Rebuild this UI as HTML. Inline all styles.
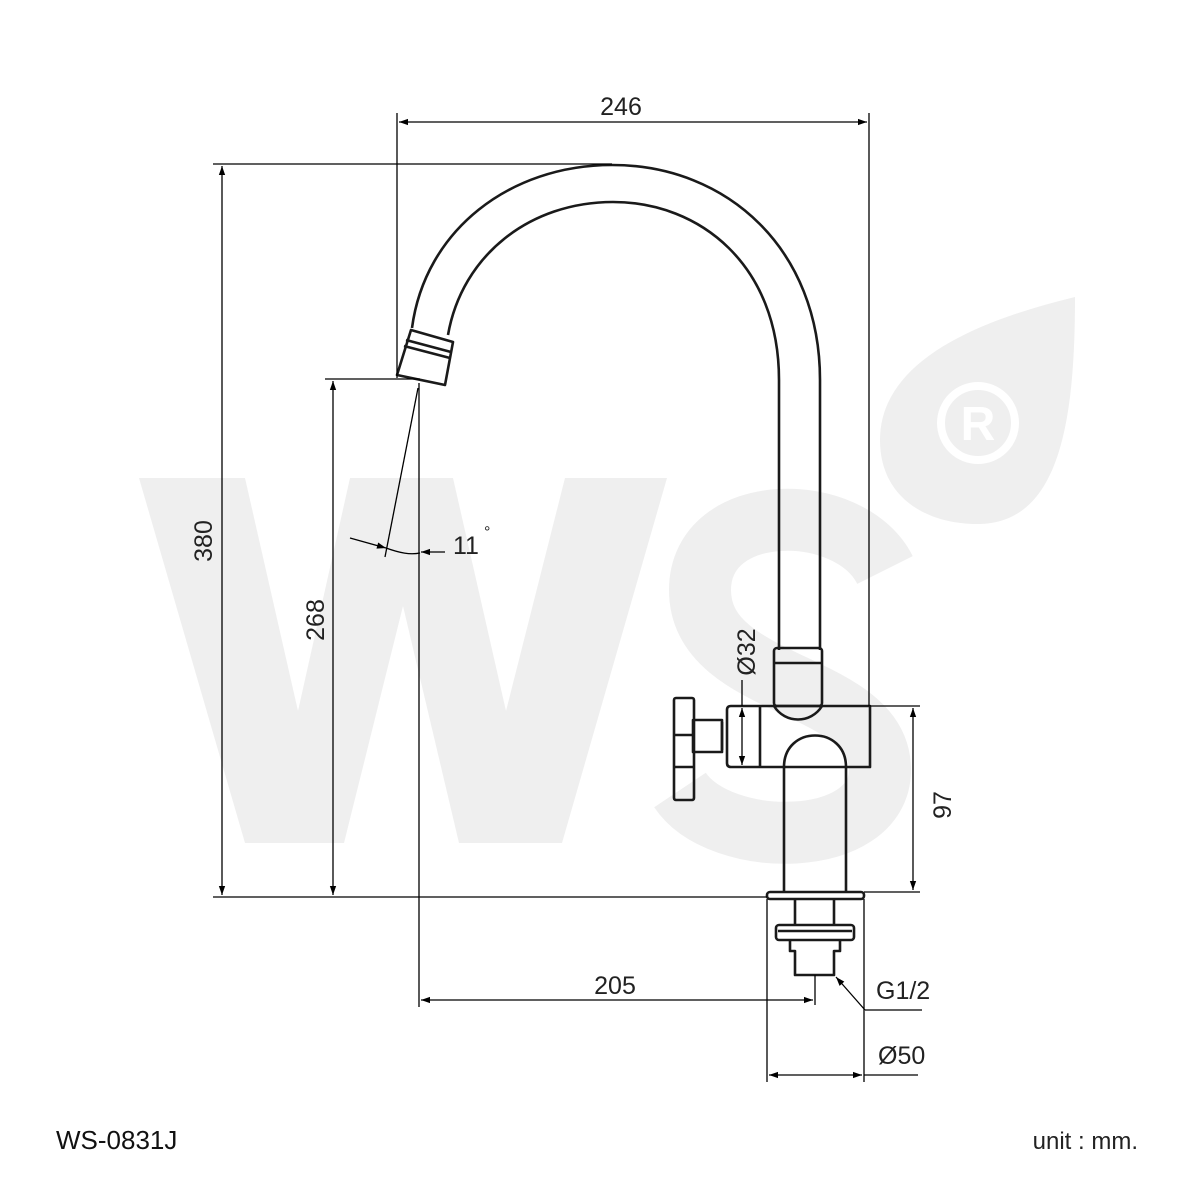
<!DOCTYPE html>
<html><head><meta charset="utf-8"><style>
html,body{margin:0;padding:0;background:#fff;}
svg{display:block;}
text{font-family:"Liberation Sans",sans-serif;}
</style></head><body>
<svg width="1181" height="1181" viewBox="0 0 1181 1181" xmlns="http://www.w3.org/2000/svg">
<defs>
<marker id="a" viewBox="0 0 10 10" refX="10" refY="5" markerWidth="18" markerHeight="9" markerUnits="userSpaceOnUse" orient="auto-start-reverse"><path d="M0,1.5 L10,5 L0,8.5 Z" fill="#000"/></marker>
</defs>
<g fill="#efefef">
<polygon points="139,478 245,478 298,711 350,478 453,478 506,711 565,478 667,478 562,843 459,843 403,606 344,843 245,843"/>
<path d="M1075,297 C980,320 880,360 880,440 C880,500 930,525 980,524 C1060,522 1075,420 1075,297 Z"/>
</g>
<path d="M885,570 C850,500 700,500 700,590 C700,690 880,680 880,770 C880,850 720,850 680,790" fill="none" stroke="#efefef" stroke-width="62"/>
<circle cx="978" cy="423" r="37" fill="none" stroke="#fff" stroke-width="8"/>
<text x="978" y="440" font-size="48" font-weight="bold" fill="#fff" text-anchor="middle">R</text>

<g fill="none" stroke="#1a1a1a" stroke-width="2.6" stroke-linejoin="round">
<path d="M412,328 C425,230 510,165 612,165 C728,165 820,250 820,380 L820,650"/>
<path d="M448,335 C462,255 530,202 613,202 C700,202 779,265 779,380 L779,650"/>
<path d="M411,330 L453,342 L445,385 L397,375 Z"/>
<path d="M406,340 L451,352"/><path d="M404,346 L450,358"/>
<rect x="774" y="648" width="48" height="58" rx="3"/>
<line x1="774" y1="663" x2="822" y2="663"/>
<path d="M774,706 C785,724 811,724 822,706"/>
<path d="M731,706 L870,706 L870,767 L731,767 Q727,767 727,763 L727,710 Q727,706 731,706 Z"/>
<line x1="760" y1="706" x2="760" y2="767"/>
<path d="M784,892 L784,767 C784,725 846,725 846,767 L846,892"/>
<rect x="693" y="720" width="29" height="32"/>
<line x1="722" y1="722" x2="722" y2="750"/>
<rect x="674" y="698" width="20" height="102" rx="2"/>
<line x1="674" y1="735" x2="694" y2="735"/><line x1="674" y1="767" x2="694" y2="767"/>
<rect x="767" y="892" width="97" height="7" rx="3"/>
<line x1="795" y1="899" x2="795" y2="925"/><line x1="834" y1="899" x2="834" y2="925"/>
<rect x="776" y="925" width="78" height="15" rx="3"/>
<line x1="778" y1="931" x2="852" y2="931"/>
<path d="M790,940 L790,951 L795,951 L795,975 L834,975 L834,951 L840,951 L840,940"/>
</g>

<g stroke="#000" stroke-width="1.3" fill="none">
<line x1="397" y1="113" x2="397" y2="378"/>
<line x1="869" y1="113" x2="869" y2="706"/>
<line x1="399" y1="122" x2="867" y2="122" marker-start="url(#a)" marker-end="url(#a)"/>
<line x1="213" y1="164" x2="612" y2="164"/>
<line x1="213" y1="897" x2="767" y2="897"/>
<line x1="222" y1="166" x2="222" y2="895" marker-start="url(#a)" marker-end="url(#a)"/>
<line x1="325" y1="379" x2="420" y2="379"/>
<line x1="333" y1="381" x2="333" y2="895" marker-start="url(#a)" marker-end="url(#a)"/>
<line x1="419" y1="383" x2="419" y2="1007"/>
<line x1="815" y1="975" x2="815" y2="1005"/>
<line x1="421" y1="1000" x2="813" y2="1000" marker-start="url(#a)" marker-end="url(#a)"/>
<line x1="418" y1="388" x2="385" y2="557"/>
<line x1="350" y1="538" x2="386" y2="548" marker-end="url(#a)"/>
<path d="M386,548 C400,553 410,555 420,553"/>
<line x1="445" y1="552" x2="421" y2="552" marker-end="url(#a)"/>
<line x1="870" y1="706" x2="920" y2="706"/>
<line x1="864" y1="892" x2="920" y2="892"/>
<line x1="913" y1="708" x2="913" y2="890" marker-start="url(#a)" marker-end="url(#a)"/>
<line x1="742" y1="680" x2="742" y2="706"/>
<line x1="742" y1="708" x2="742" y2="765" marker-start="url(#a)" marker-end="url(#a)"/>
<line x1="767" y1="899" x2="767" y2="1082"/>
<line x1="864" y1="899" x2="864" y2="1082"/>
<line x1="769" y1="1075" x2="862" y2="1075" marker-start="url(#a)" marker-end="url(#a)"/>
<line x1="864" y1="1075" x2="918" y2="1075"/>
<line x1="865" y1="1010" x2="836" y2="977" marker-end="url(#a)"/>
<line x1="865" y1="1010" x2="922" y2="1010"/>
</g>

<g fill="#222" font-size="25">
<text x="621" y="115" text-anchor="middle">246</text>
<text x="615" y="994" text-anchor="middle">205</text>
<text x="453" y="554">11</text>
<text x="484" y="537" font-size="16">°</text>
<text x="876" y="999">G1/2</text>
<text x="878" y="1064">Ø50</text>
<text transform="translate(212,541) rotate(-90)" text-anchor="middle">380</text>
<text transform="translate(324,620) rotate(-90)" text-anchor="middle">268</text>
<text transform="translate(951,805) rotate(-90)" text-anchor="middle">97</text>
<text transform="translate(755,652) rotate(-90)" text-anchor="middle">Ø32</text>
<text x="56" y="1149" font-size="26" fill="#111">WS-0831J</text>
<text x="1138" y="1149" font-size="24" text-anchor="end">unit : mm.</text>
</g>
</svg>
</body></html>
